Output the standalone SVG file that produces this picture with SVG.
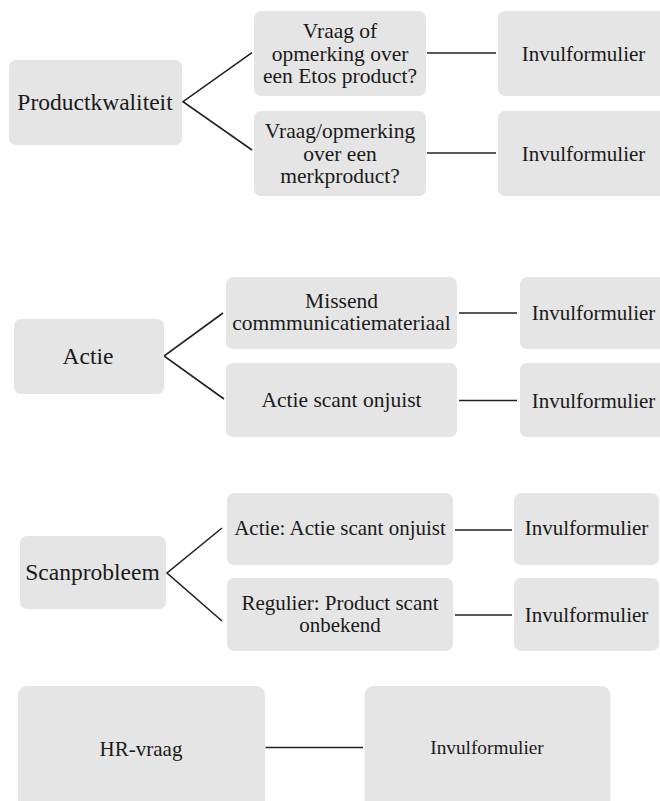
<svg xmlns="http://www.w3.org/2000/svg" width="660" height="801" viewBox="0 0 660 801">
<style>
.box{fill:#e5e5e5;}
.t{font-family:"Liberation Serif","Times New Roman",serif;fill:#1a1a1a;text-anchor:middle;}
.l{font-size:23.5px;}
.m{font-size:21.5px;}
.r{font-size:21px;}
.s{font-size:19.3px;}
.c{stroke:#222;stroke-width:1.6;fill:none;}
</style>
<rect width="660" height="801" fill="#ffffff"/>
<g id="connectors">
<polyline class="c" points="252,52.7 183,101.7 252,150"/>
<line class="c" x1="427" y1="53" x2="496" y2="53"/>
<line class="c" x1="427" y1="153" x2="496" y2="153"/>
<polyline class="c" points="223,313 164,356 224,399"/>
<line class="c" x1="459" y1="313" x2="517" y2="313"/>
<line class="c" x1="459" y1="400.5" x2="517" y2="400.5"/>
<polyline class="c" points="222,528 167,573 222,621"/>
<line class="c" x1="455" y1="530" x2="512" y2="530"/>
<line class="c" x1="455" y1="615" x2="512" y2="615"/>
<line class="c" x1="265.5" y1="747.5" x2="363" y2="747.5"/>
</g>
<g id="productkwaliteit">
<rect class="box" x="9" y="60" width="173" height="85" rx="7"/>
<text class="t l" x="95" y="110">Productkwaliteit</text>
</g>
<g id="etos-product">
<rect class="box" x="254" y="11" width="172" height="85" rx="7"/>
<text class="t m" x="340" y="37.7">Vraag of</text>
<text class="t m" x="340" y="60.5">opmerking over</text>
<text class="t m" x="340" y="83">een Etos product?</text>
</g>
<g id="merkproduct">
<rect class="box" x="254" y="111" width="172" height="85" rx="7"/>
<text class="t m" x="340" y="138">Vraag/opmerking</text>
<text class="t m" x="340" y="160.5">over een</text>
<text class="t m" x="340" y="183">merkproduct?</text>
</g>
<g id="invul-1">
<rect class="box" x="498" y="11" width="175" height="85" rx="7"/>
<text class="t r" x="583.5" y="60.5">Invulformulier</text>
</g>
<g id="invul-2">
<rect class="box" x="498" y="111" width="175" height="85" rx="7"/>
<text class="t r" x="583.5" y="160.5">Invulformulier</text>
</g>
<g id="actie">
<rect class="box" x="14" y="319" width="150" height="75" rx="7"/>
<text class="t l" x="88" y="364">Actie</text>
</g>
<g id="missend">
<rect class="box" x="226" y="277" width="231" height="72" rx="7"/>
<text class="t m" x="341.5" y="308">Missend</text>
<text class="t m" x="341.5" y="330">commmunicatiemateriaal</text>
</g>
<g id="actie-scant">
<rect class="box" x="226" y="363" width="231" height="74" rx="7"/>
<text class="t m" x="341.5" y="407">Actie scant onjuist</text>
</g>
<g id="invul-3">
<rect class="box" x="520" y="277" width="150" height="72" rx="7"/>
<text class="t r" x="593.5" y="320">Invulformulier</text>
</g>
<g id="invul-4">
<rect class="box" x="520" y="363" width="150" height="74" rx="7"/>
<text class="t r" x="593.5" y="407.5">Invulformulier</text>
</g>
<g id="scanprobleem">
<rect class="box" x="20" y="536" width="146" height="73" rx="7"/>
<text class="t l" x="92.5" y="580">Scanprobleem</text>
</g>
<g id="actie-actie-scant">
<rect class="box" x="227" y="493" width="226" height="72" rx="7"/>
<text class="t r" x="340" y="535">Actie: Actie scant onjuist</text>
</g>
<g id="regulier">
<rect class="box" x="227" y="578" width="226" height="73" rx="7"/>
<text class="t r" x="340" y="610">Regulier: Product scant</text>
<text class="t r" x="340" y="632">onbekend</text>
</g>
<g id="invul-5">
<rect class="box" x="514" y="493" width="145" height="72" rx="7"/>
<text class="t r" x="586.5" y="535">Invulformulier</text>
</g>
<g id="invul-6">
<rect class="box" x="514" y="578" width="145" height="73" rx="7"/>
<text class="t r" x="586.5" y="622">Invulformulier</text>
</g>
<g id="hr-vraag">
<rect class="box" x="18" y="686" width="247" height="130" rx="9"/>
<text class="t r" x="141" y="756">HR-vraag</text>
</g>
<g id="invul-7">
<rect class="box" x="364.5" y="686" width="246" height="130" rx="9"/>
<text class="t s" x="487" y="754">Invulformulier</text>
</g>
</svg>
